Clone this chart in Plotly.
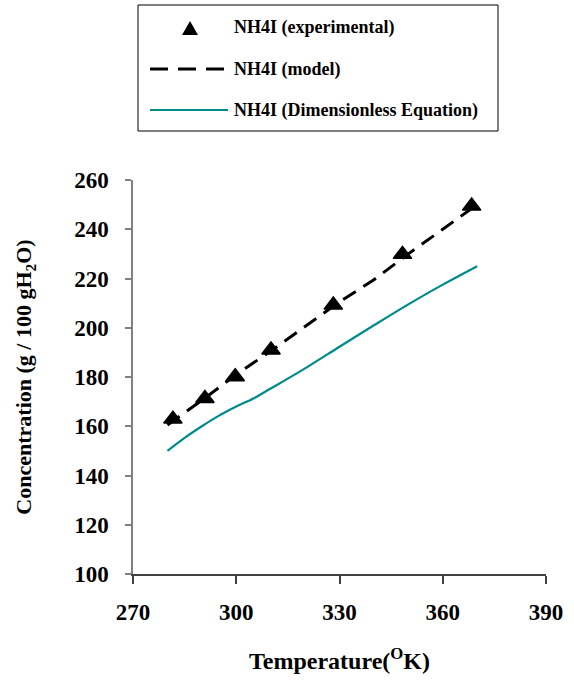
import plotly.graph_objects as go

# Data
exp_T = [281.6, 290.9, 299.7, 310.1, 328.2, 348.3, 368.4]
exp_C = [162.9, 171.3, 180.1, 191.0, 209.2, 229.8, 249.4]

model_T = [280, 290, 300, 310, 320, 330, 340, 350, 360, 368]
model_C = [160.5, 170.5, 181.0, 190.5, 200.5, 210.5, 219.5, 230.0, 240.0, 248.0]

dim_T = [280, 285, 290, 295, 300, 305, 310, 320, 330, 340, 350, 360, 370]
dim_C = [150.0, 155.3, 160.0, 164.3, 168.0, 171.3, 175.3, 183.5, 192.3, 201.0, 209.5, 217.5, 225.0]

x_ticks = [270, 300, 330, 360, 390]
y_ticks = [100, 120, 140, 160, 180, 200, 220, 240, 260]

legend_labels = ["NH4I (experimental)", "NH4I (model)", "NH4I (Dimensionless Equation)"]

FONT = "Liberation Serif, Times New Roman, serif"
TEAL = "#008B8B"

fig = go.Figure()
fig.add_trace(go.Scatter(x=dim_T, y=dim_C, mode="lines", line=dict(color=TEAL, width=2.2),
                         name=legend_labels[2], line_shape="spline"))
fig.add_trace(go.Scatter(x=model_T, y=model_C, mode="lines",
                         line=dict(color="black", width=3, dash="15px,9px"), name=legend_labels[1]))
fig.add_trace(go.Scatter(x=exp_T, y=exp_C, mode="markers",
                         marker=dict(symbol="triangle-up", size=16, color="black",
                                     line=dict(color="black", width=1.5)),
                         name=legend_labels[0]))

W, H = 574, 683
L, R, T, B = 133, 28, 180, 109
pw, ph = W - L - R, H - T - B

def px(xp):
    return (xp - L) / pw

def py(yp):
    return (H - B - yp) / ph

shapes = []
# legend box
shapes.append(dict(type="rect", xref="paper", yref="paper", x0=px(138), x1=px(498), y0=py(131), y1=py(5),
                   line=dict(color="black", width=1), fillcolor="white", layer="below"))
# triangle symbol
shapes.append(dict(type="path", xref="paper", yref="paper", xsizemode="pixel", ysizemode="pixel",
                   xanchor=px(190), yanchor=py(28), path="M-8,-7 L8,-7 L0,7 Z",
                   fillcolor="black", line=dict(color="black", width=0)))
# dashed line symbol
shapes.append(dict(type="line", xref="paper", yref="paper", x0=px(150), x1=px(228), y0=py(69), y1=py(69),
                   line=dict(color="black", width=3, dash="18px,10px")))
# teal line symbol
shapes.append(dict(type="line", xref="paper", yref="paper", x0=px(150), x1=px(228), y0=py(110), y1=py(110),
                   line=dict(color=TEAL, width=2.2)))

annotations = []
for lab, yy in zip(legend_labels, [28, 69, 110]):
    annotations.append(dict(text=lab, xref="paper", yref="paper", x=px(232), y=py(yy),
                            xanchor="left", yanchor="middle", showarrow=False,
                            font=dict(family=FONT, size=18, color="black", weight="bold")))

fig.update_layout(
    width=W, height=H,
    margin=dict(l=L, r=R, t=T, b=B, autoexpand=False),
    paper_bgcolor="white", plot_bgcolor="white",
    showlegend=False,
    shapes=shapes, annotations=annotations,
    font=dict(family=FONT, color="black"),
)
fig.update_xaxes(range=[270, 390], tickvals=x_ticks, showgrid=False, zeroline=False,
                 showline=True, linecolor="#404040", linewidth=1.5,
                 ticks="outside", ticklen=8, tickcolor="#404040", tickwidth=1.5,
                 ticklabelstandoff=9,
                 tickfont=dict(family=FONT, size=23, color="black", weight="bold"),
                 title=dict(text="Temperature(<sup>O</sup>K)", standoff=28,
                            font=dict(family=FONT, size=24, color="black", weight="bold")))
fig.update_yaxes(range=[100, 260], tickvals=y_ticks, showgrid=False, zeroline=False,
                 showline=True, linecolor="#808080", linewidth=1.5,
                 ticks="outside", ticklen=6, tickcolor="#808080", tickwidth=1.5,
                 ticklabelstandoff=12,
                 tickfont=dict(family=FONT, size=23, color="black", weight="bold"),
                 title=dict(text="Concentration (g / 100 gH<sub>2</sub>O)", standoff=36,
                            font=dict(family=FONT, size=22, color="black", weight="bold")))

fig.write_html("out.html")
